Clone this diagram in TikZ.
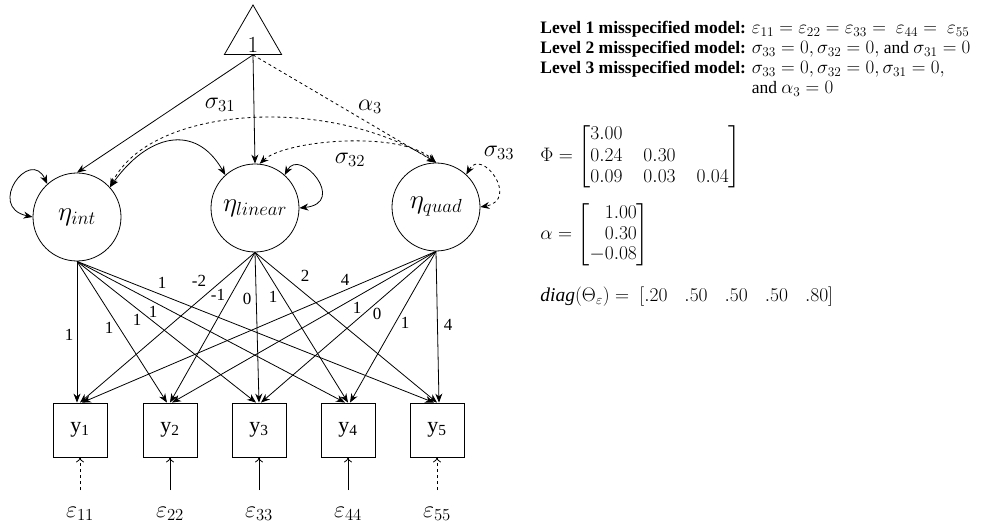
\RequirePackage{fix-cm}
\documentclass[tikz,border=0pt]{standalone}
\usepackage{amsmath}
\usepackage{fontspec}
\setmainfont{Liberation Serif}
\usetikzlibrary{arrows.meta,shapes.geometric}
% larger setting for formulas inside the notes
\newcommand\notemath[1]{{\fontsize{19}{20}\selectfont$#1$}}

\begin{document}
\begin{tikzpicture}[x=1pt,y=1pt,line width=0.8pt,
  latent/.style={circle,draw,minimum size=88pt,inner sep=0pt,font=\fontsize{27}{28}\selectfont},
  obs/.style={rectangle,draw,minimum size=54pt,inner sep=0pt,font=\fontsize{22}{24}\selectfont},
  load/.style={-{Stealth[length=9pt,width=7pt]}},
  cov/.style={{Stealth[length=9pt,width=7pt]}-{Stealth[length=9pt,width=7pt]}},
  err/.style={-{To[length=5pt,width=8pt]}},
  lbl/.style={font=\fontsize{17}{19}\selectfont,inner sep=0pt},
  glabel/.style={font=\fontsize{24}{26}\selectfont,inner sep=0pt},
  note/.style={font=\fontsize{17.5}{20}\selectfont,inner sep=0pt},
  mnote/.style={font=\fontsize{19.5}{20}\selectfont,inner sep=0pt}]
\useasboundingbox (0,0) rectangle (988,525);

% mean structure constant
\node[regular polygon,regular polygon sides=3,draw,minimum size=66pt,inner sep=0pt] (tri) at (253,487) {};
\node[font=\fontsize{23}{24}\selectfont,inner sep=0pt] (one) at (253,480) {$1$};

% growth factors
\node[latent] (int)  at (77,308)  {$\eta_{int}$};
\node[latent] (lin)  at (255,317) {$\eta_{linear}$};
\node[latent] (quad) at (436,318) {$\eta_{quad}$};

% observed indicators
\foreach \i/\x in {1/80,2/170,3/259,4/348,5/437}{
  \node[obs] (y\i) at (\x,95) {y\textsubscript{\i}};
  \coordinate (t\i) at (\x,35);
}
\node[glabel] (ep1) at (80,11)  {$\varepsilon_{11}$};
\node[glabel] (ep2) at (170,11) {$\varepsilon_{22}$};
\node[glabel] (ep3) at (259,11) {$\varepsilon_{33}$};
\node[glabel] (ep4) at (348,11) {$\varepsilon_{44}$};
\node[glabel] (ep5) at (437,11) {$\varepsilon_{55}$};

% residual arrows
\draw[err,dashed] (t1) -- (y1.south);
\draw[err] (t2) -- (y2.south);
\draw[err] (t3) -- (y3.south);
\draw[err] (t4) -- (y4.south);
\draw[err,dashed] (t5) -- (y5.south);

% factor loadings
\foreach \s/\sh in {int/-3,lin/0,quad/2}
  \foreach \i in {1,...,5}
    \draw[load] (\s.south) -- ([xshift=\sh pt]y\i.north);

\node[lbl] (li1) at (69,190)  {1};
\node[lbl] (li2) at (109,197) {1};
\node[lbl] (li3) at (137,205) {1};
\node[lbl] (li4) at (153,213) {1};
\node[lbl] (li5) at (162,242) {1};
\node[lbl] (ll1) at (199,244) {-2};
\node[lbl] (ll2) at (218,230) {-1};
\node[lbl] (ll3) at (247,226) {0};
\node[lbl] (ll4) at (273,228) {1};
\node[lbl] (ll5) at (305,249) {2};
\node[lbl] (lq1) at (345,245) {4};
\node[lbl] (lq2) at (357,217) {1};
\node[lbl] (lq3) at (377,211) {0};
\node[lbl] (lq4) at (405,202) {1};
\node[lbl] (lq5) at (448,200) {4};

% means
\draw[load] (tri.south) -- (int.north);
\draw[load] (tri.south) -- (lin.north);
\draw[load,dashed] (tri.south) -- (quad.north);

% covariances
\draw[cov] (int.42) .. controls (147,390) and (195,403) .. (lin.132);
\draw[cov,dashed] (int.42) .. controls (150,420) and (330,430) .. (quad.north);
\draw[cov,dashed] (lin.84) .. controls (285,385) and (400,395) .. (quad.north);

% variances
\draw[cov] (int.132) .. controls (30,378) and (-14,318) .. (int.180);
\draw[cov] (lin.48) .. controls (300,378) and (348,322) .. (lin.0);
\draw[cov,dashed] (quad.47) .. controls (482,378) and (520,325) .. (quad.0);

\node[glabel] (s31) at (220,420) {$\sigma_{31}$};
\node[glabel] (a3)  at (370,418) {$\alpha_{3}$};
\node[glabel] (s32) at (350,365) {$\sigma_{32}$};
\node[glabel] (s33) at (499,372) {$\sigma_{33}$};

% model notes
\node[note,anchor=base west] (levels) at (540,491) {%
  \begin{tabular}[t]{@{}l@{ }l@{}}
  \textbf{Level 1 misspecified model:} & \notemath{\varepsilon_{11}=\varepsilon_{22}=\varepsilon_{33}=\ \varepsilon_{44}=\ \varepsilon_{55}}\\
  \textbf{Level 2 misspecified model:} & \notemath{\sigma_{33}=0,\sigma_{32}=0,} and \notemath{\sigma_{31}=0}\\
  \textbf{Level 3 misspecified model:} & \notemath{\sigma_{33}=0,\sigma_{32}=0,\sigma_{31}=0,}\\
  & and \notemath{\alpha_{3}=0}
  \end{tabular}};

\node[mnote,anchor=west] (phi) at (540,368) {%
  \setlength\arraycolsep{10.5pt}\renewcommand\arraystretch{1.07}%
  $\Phi=\begin{bmatrix}3.00 & & \\ 0.24 & 0.30 & \\ 0.09 & 0.03 & 0.04\end{bmatrix}$};

\node[mnote,anchor=west] (alpha) at (540,290) {%
  \renewcommand\arraystretch{1.03}%
  $\alpha=\left[\begin{array}{@{}r@{}}1.00\\ 0.30\\ -0.08\end{array}\right]$};

\node[mnote,anchor=west] (theta) at (540,228) {%
  $\mathit{diag}(\Theta_{\varepsilon})=\ [.20\hspace{17pt}.50\hspace{17pt}.50\hspace{17pt}.50\hspace{17pt}.80]$};
\end{tikzpicture}
\end{document}
